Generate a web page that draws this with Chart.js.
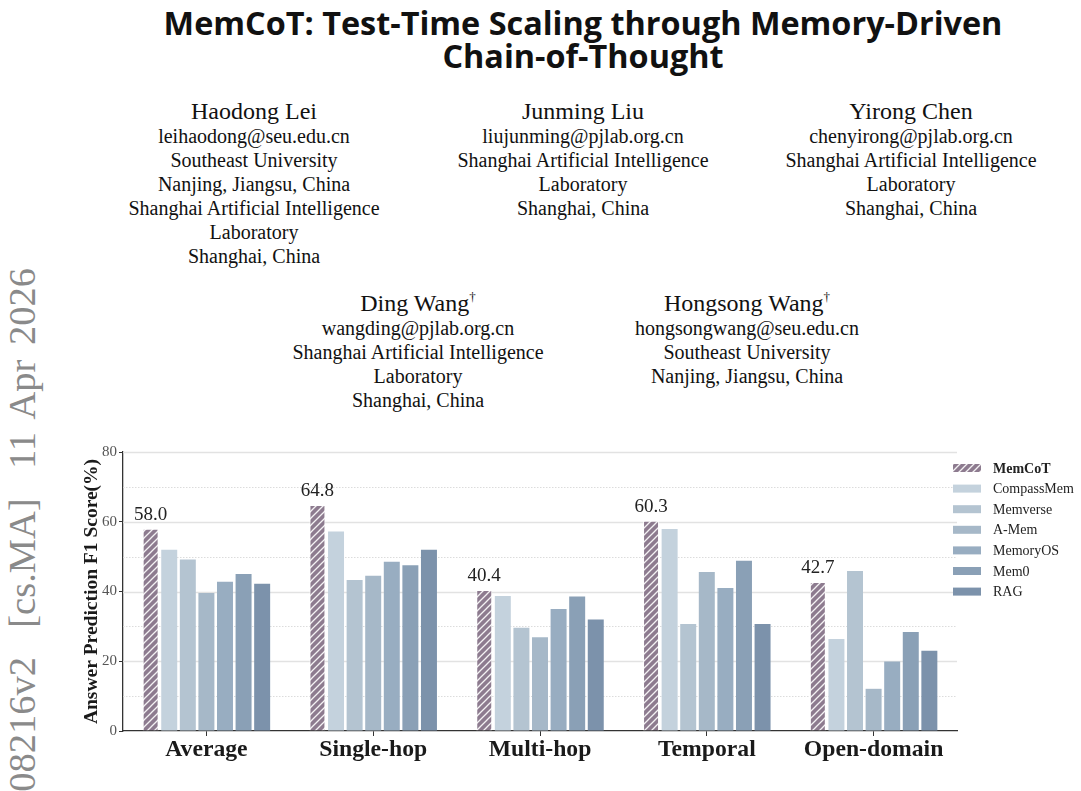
<!DOCTYPE html>
<html>
<head>
<meta charset="utf-8">
<script src="https://cdn.jsdelivr.net/npm/chart.js@4.4.1/dist/chart.umd.min.js"></script>
<style>
  html, body { margin: 0; padding: 0; background: #fff; width: 1081px; height: 791px; overflow: hidden; position: relative; }
  .title { position: absolute; left: 83px; top: 6px; width: 1000px; text-align: center;
           font-family: "Open Sans", sans-serif; font-weight: 700; font-size: 32.4px; line-height: 33px; color: #111; }
  .au { position: absolute; width: 400px; text-align: center; font-family: "Liberation Serif", serif;
        font-size: 20px; line-height: 24px; color: #111; }
  .au .nm { font-size: 24px; line-height: 25px; }
  .au sup { font-size: 13px; vertical-align: 10px; line-height: 0; color: #111; }
  .stamp { position: absolute; left: 1px; top: 1168px; width: 900px; text-align: right; white-space: nowrap;
           transform-origin: left top; transform: rotate(-90deg); word-spacing: 5px;
           font-family: "Liberation Serif", serif; font-size: 38.5px; line-height: 42px; color: #8a8a8a; }
  #chart { position: absolute; left: 60px; top: 440px; }
</style>
</head>
<body>
<div class="title">MemCoT: Test-Time Scaling through Memory-Driven<br>Chain-of-Thought</div>

<div class="au" style="left:54px;top:99px">
  <div class="nm">Haodong Lei</div>
  <div>leihaodong@seu.edu.cn</div>
  <div>Southeast University</div>
  <div>Nanjing, Jiangsu, China</div>
  <div>Shanghai Artificial Intelligence</div>
  <div>Laboratory</div>
  <div>Shanghai, China</div>
</div>
<div class="au" style="left:383px;top:99px">
  <div class="nm">Junming Liu</div>
  <div>liujunming@pjlab.org.cn</div>
  <div>Shanghai Artificial Intelligence</div>
  <div>Laboratory</div>
  <div>Shanghai, China</div>
</div>
<div class="au" style="left:711px;top:99px">
  <div class="nm">Yirong Chen</div>
  <div>chenyirong@pjlab.org.cn</div>
  <div>Shanghai Artificial Intelligence</div>
  <div>Laboratory</div>
  <div>Shanghai, China</div>
</div>
<div class="au" style="left:218px;top:291px">
  <div class="nm">Ding Wang<sup>†</sup></div>
  <div>wangding@pjlab.org.cn</div>
  <div>Shanghai Artificial Intelligence</div>
  <div>Laboratory</div>
  <div>Shanghai, China</div>
</div>
<div class="au" style="left:547px;top:291px">
  <div class="nm">Hongsong Wang<sup>†</sup></div>
  <div>hongsongwang@seu.edu.cn</div>
  <div>Southeast University</div>
  <div>Nanjing, Jiangsu, China</div>
</div>

<div class="stamp">arXiv:2604.08216v2 &nbsp;[cs.MA] &nbsp;11 Apr 2026</div>

<canvas id="chart" width="1021" height="351"></canvas>

<script>
const categories = ['Average', 'Single-hop', 'Multi-hop', 'Temporal', 'Open-domain'];
const methods = ['MemCoT', 'CompassMem', 'Memverse', 'A-Mem', 'MemoryOS', 'Mem0', 'RAG'];
const memcot     = [58.0, 64.8, 40.4, 60.3, 42.7];
const compassMem = [52.0, 57.2, 38.7, 57.9, 26.4];
const memverse   = [49.2, 43.3, 29.6, 30.7, 45.9];
const aMem       = [39.6, 44.5, 26.9, 45.6, 12.1];
const memoryOS   = [42.8, 48.5, 35.0, 41.0, 19.9];
const mem0       = [45.0, 47.5, 38.6, 48.8, 28.4];
const rag        = [42.2, 52.0, 32.0, 30.7, 23.0];
const yTicks = [0, 20, 40, 60, 80];

const series = [memcot, compassMem, memverse, aMem, memoryOS, mem0, rag];
const colors = ['#8d7b8f', '#c4d2dd', '#b4c4d1', '#a6b8c8', '#98adc1', '#8aa0b6', '#7c92ab'];
const serif = '"Liberation Serif", serif';

// hatch fill for MemCoT bars (///)
function makeHatch(bg) {
    const s = 7;
    const c = document.createElement('canvas');
    c.width = s; c.height = s;
    const g = c.getContext('2d');
    g.fillStyle = bg;
    g.fillRect(0, 0, s, s);
    g.strokeStyle = 'rgba(255,255,255,0.9)';
    g.lineWidth = 1.3;
    g.beginPath();
    g.moveTo(0, s); g.lineTo(s, 0);
    g.moveTo(-1, 1); g.lineTo(1, -1);
    g.moveTo(s - 1, s + 1); g.lineTo(s + 1, s - 1);
    g.stroke();
    return g.createPattern(c, 'repeat');
}
const ctx = document.getElementById('chart').getContext('2d');
const hatch = makeHatch(colors[0]);

const datasets = methods.map((m, i) => ({
    label: m,
    data: series[i],
    backgroundColor: i === 0 ? hatch : colors[i],
    borderColor: 'rgba(255,255,255,0.8)',
    borderWidth: i === 0 ? 1 : 0,
    categoryPercentage: 0.78,
    barPercentage: 0.86
}));

// grid: solid at labelled ticks, dotted half way between
const gridPlugin = {
    id: 'grid',
    beforeDatasetsDraw(chart) {
        const {ctx, chartArea: a, scales: {y}} = chart;
        ctx.save();
        yTicks.forEach(v => {
            if (v > 0) {
                const py = Math.round(y.getPixelForValue(v)) + 0.5;
                ctx.strokeStyle = '#e2e2e2';
                ctx.lineWidth = 1.6;
                ctx.setLineDash([]);
                ctx.beginPath(); ctx.moveTo(a.left, py); ctx.lineTo(a.right, py); ctx.stroke();
            }
            if (v < 80) {
                const py = Math.round(y.getPixelForValue(v + 10)) + 0.5;
                ctx.strokeStyle = '#dcdcdc';
                ctx.lineWidth = 1;
                ctx.setLineDash([1.5, 1.5]);
                ctx.beginPath(); ctx.moveTo(a.left, py); ctx.lineTo(a.right, py); ctx.stroke();
            }
        });
        ctx.restore();
    }
};

// value labels over MemCoT + legend on the right
const extrasPlugin = {
    id: 'extras',
    afterDraw(chart) {
        const c = chart.ctx;
        c.save();
        c.font = '19px ' + serif;
        c.fillStyle = '#222';
        c.textAlign = 'center';
        c.textBaseline = 'alphabetic';
        chart.getDatasetMeta(0).data.forEach((bar, i) => {
            c.fillText(memcot[i].toFixed(1), bar.x, bar.y - 9);
        });

        const lx = 893, ly = 28, step = 20.6;
        c.textAlign = 'left';
        c.textBaseline = 'middle';
        methods.forEach((m, i) => {
            const yy = ly + i * step;
            c.fillStyle = i === 0 ? hatch : colors[i];
            c.fillRect(lx, yy - 4, 28, 8);
            c.font = (i === 0 ? 'bold ' : '') + '14px ' + serif;
            c.fillStyle = '#222';
            c.fillText(m, lx + 40, yy + 1);
        });
        c.restore();
    }
};

new Chart(ctx, {
    type: 'bar',
    data: { labels: categories, datasets: datasets },
    plugins: [gridPlugin, extrasPlugin],
    options: {
        responsive: false,
        animation: false,
        layout: { padding: { left: 0, right: 124, top: 12, bottom: 0 } },
        plugins: { legend: { display: false }, tooltip: { enabled: false } },
        scales: {
            x: {
                grid: { drawOnChartArea: false, offset: false, tickLength: 5, tickColor: '#333' },
                border: { color: '#333', width: 1.3 },
                ticks: { font: { family: serif, size: 23.7, weight: 'bold' }, color: '#1a1a1a', padding: 0 },
                afterFit: s => { s.height = 60; }
            },
            y: {
                min: 0, max: 80,
                afterBuildTicks: s => { s.ticks = yTicks.map(v => ({ value: v })); },
                ticks: { font: { family: serif, size: 15 }, color: '#555', padding: 2 },
                grid: { drawOnChartArea: false, tickLength: 4, tickColor: '#333' },
                border: { color: '#333', width: 1.3 },
                title: {
                    display: true, text: 'Answer Prediction F1 Score(%)',
                    font: { family: serif, size: 19.5, weight: 'bold' }, color: '#1a1a1a',
                    padding: { top: 20, bottom: 0 }
                },
                afterFit: s => { s.width = 63; }
            }
        }
    }
});
</script>
</body>
</html>
